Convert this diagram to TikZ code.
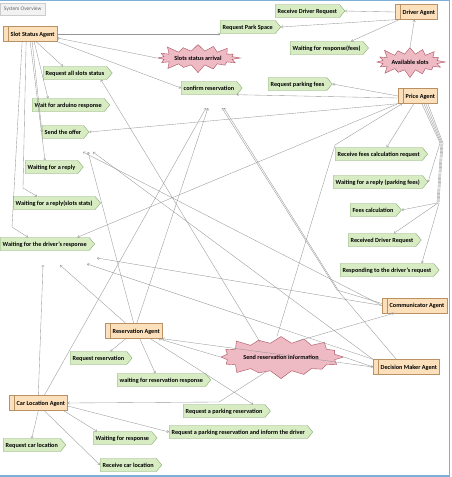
\documentclass[tikz,border=0pt]{standalone}
\usepackage{fontspec}
\setmainfont{Carlito}
\usepackage{tikz}
\usetikzlibrary{shapes.symbols, arrows.meta, positioning}
\definecolor{agentbg}{RGB}{252,224,188}
\definecolor{agentline}{RGB}{185,145,100}
\definecolor{actbg}{RGB}{216,236,196}
\definecolor{actline}{RGB}{135,170,110}
\definecolor{percbg}{RGB}{238,186,196}
\definecolor{percline}{RGB}{170,80,95}
\definecolor{linkgray}{RGB}{150,150,150}
\definecolor{framebl}{RGB}{125,175,215}
\definecolor{tabbg}{RGB}{242,242,242}

\tikzset{
	agent/.style={
		draw=agentline, fill=agentbg, rectangle, anchor=west,
		minimum height=15pt, inner xsep=2.5pt, text depth=0pt,
		font=\fontsize{6.2}{7}\selectfont\bfseries,
		execute at begin node=\hspace*{5pt},
		path picture={\draw[agentline] ([xshift=5pt]path picture bounding box.south west) -- ([xshift=5pt]path picture bounding box.north west);}
	},
	act/.style={
		signal, signal to=east, signal pointer angle=100,
		draw=actline, fill=actbg, anchor=west,
		minimum height=13pt, inner xsep=2.5pt, text depth=0pt,
		font=\fontsize{6.2}{7}\selectfont\bfseries
	},
	percept/.style={
		starburst, starburst points=16, starburst point height=9pt,
		draw=percline, fill=percbg, inner sep=1pt,
		font=\fontsize{6.2}{7}\selectfont\bfseries
	},
	link/.style={draw=linkgray, line width=0.35pt, -{To[length=2.2pt,width=3pt]}}
}

\begin{document}
\begin{tikzpicture}[x=1pt, y=-1pt]
	\useasboundingbox (0,0) rectangle (451,477);
	\draw[framebl, line width=1.2pt] (-2,0.8) -- (449.6,0.8) -- (449.6,476) -- (-2,476);
	\node[draw=black!20, fill=tabbg, anchor=north west, minimum width=45pt, minimum height=12pt, inner sep=1pt,
		font=\fontsize{5.4}{6}\selectfont, text=black!60] (tab) at (0,3) {System Overview};

	% agents
	\node[agent] (ssa) at (3,34) {Slot Status Agent};
	\node[agent] (da) at (395,12) {Driver Agent};
	\node[agent] (pa) at (398,96) {Price Agent};
	\node[agent] (ca) at (382,305.5) {Communicator Agent};
	\node[agent] (dma) at (373,367) {Decision Maker Agent};
	\node[agent] (ra) at (105,331) {Reservation Agent};
	\node[agent] (cla) at (9,403) {Car Location Agent};

	% percepts
	\node[percept, minimum width=86pt, minimum height=32pt] (ssarr) at (198,58) {Slots status arrival};
	\node[percept, minimum width=72pt, minimum height=34pt] (avail) at (410,62) {Available slots};
	\node[percept, minimum width=114pt, minimum height=46pt] (srinfo) at (281,357) {Send reservation information};

	% actions
	\node[act] (rdr) at (275,11) {Receive Driver Request};
	\node[act] (rps) at (220,27) {Request Park Space};
	\node[act] (wrf) at (290,48) {Waiting for response(fees)};
	\node[act] (rass) at (43,73) {Request all slots status};
	\node[act] (conf) at (181,88) {confirm reservation};
	\node[act] (rpf) at (268,84) {Request parking fees};
	\node[act] (war) at (32,105) {Wait for arduino response};
	\node[act] (sto) at (42,132) {Send the offer};
	\node[act] (wfar) at (25,167) {Waiting for a reply};
	\node[act] (wfars) at (13,203) {Waiting for a reply(slots stats)};
	\node[act] (wfdr) at (0,244) {Waiting for the driver’s response};
	\node[act] (rfcr) at (335,154) {Receive fees calculation request};
	\node[act] (wfrpf) at (333,182) {Waiting for a reply (parking fees)};
	\node[act] (fc) at (350,210) {Fees calculation};
	\node[act] (rdrq) at (348,240) {Received Driver Request};
	\node[act] (rtdr) at (340,270) {Responding to the driver’s request};
	\node[act] (rres) at (70,358) {Request reservation};
	\node[act] (wrr) at (117,380) {waiting for reservation response};
	\node[act] (rpr) at (183,411) {Request a parking reservation};
	\node[act] (rprid) at (169,432) {Request a parking reservation and inform the driver};
	\node[act] (rcl) at (3,445) {Request car location};
	\node[act] (wfr) at (93,438) {Waiting for response};
	\node[act] (rcloc) at (100,465) {Receive car location};

	% free message ends and bends
	\coordinate (mA) at (88,152);
	\coordinate (mB) at (206,108);
	\coordinate (mBr) at (222,108);
	\coordinate (mC1) at (43,265);
	\coordinate (mC2) at (60,265);
	\coordinate (mC3) at (87,264);
	\coordinate (mC4) at (97,258);
	\coordinate (kR) at (23,188);
	\coordinate (kD) at (12,227);
	\coordinate (kP1) at (440,143);
	\coordinate (kP2) at (437,203);
	\coordinate (kS) at (335,145);
	\coordinate (kB1) at (337,290);
	\coordinate (kB2) at (340,293);
	\coordinate (kL) at (219,402);

	% slot status agent
	\draw[link] (ssa.east) -- (ssa.east -| rps.west);
	\draw[link] (ssarr.west) -- ([yshift=-4pt]ssa.east);
	\draw[link] (ssa.south east) -- (conf.west);
	\draw[link] ([xshift=6pt]ssa.south) -- ([xshift=20pt]rass.north west);
	\draw[link] ([xshift=4pt]ssa.south) -- ([xshift=16pt]war.north west);
	\draw[link] ([xshift=2pt]ssa.south) -- (sto.west);
	\draw[link] (ssa.south) -- ([xshift=20pt]wfar.north west);
	\draw[link] ([xshift=-4pt]ssa.south) -- (kR) -- ([xshift=24pt]wfars.north west);
	\draw[link] ([xshift=-8pt]ssa.south) -- (kD) -- ([xshift=28pt]wfdr.north west);
	\draw[link] ([xshift=-6pt]srinfo.north west) -- ([xshift=-6pt]rass.south east);

	% driver agent
	\draw[link] (da.west) -- (rdr.east);
	\draw[link] (da.south west) -- (rps.east);
	\draw[link] ([xshift=4pt]da.south west) -- ([xshift=-12pt]wrf.north east);
	\draw[link] (avail.north) -- ([xshift=-2pt]da.south);

	% price agent
	\draw[link] (pa.west) -- (rpf.east);
	\draw[link] ([yshift=-2pt]pa.west) -- (conf.south east);
	\draw[link] (pa.south west) -- (sto.east);
	\draw[link] (pa.south west) -- ([xshift=-12pt]wfdr.north east);
	\draw[link] ([xshift=-4pt]pa.south) -- ([xshift=8pt]rfcr.north);
	\draw[link] ([xshift=4pt]pa.south) -- (kP1) -- (wfrpf.east);
	\draw[link] ([xshift=6pt]pa.south) -- ([xshift=1pt]kP1) -- (kP2) -- (fc.east);
	\draw[link] ([xshift=8pt]pa.south) -- ([xshift=2pt]kP1) -- ([xshift=1pt]kP2) -- ([xshift=-22pt]rdrq.north east);
	\draw[link] ([xshift=10pt]pa.south) -- ([xshift=3pt]kP1) -- ([xshift=2pt]kP2) -- ([xshift=-12pt]rtdr.north east);
	\draw[link] ([xshift=-4pt]srinfo.north) -- (kS) -- ([xshift=4pt]pa.south west);

	% reservation agent
	\draw[link] ([xshift=-8pt]ra.south) -- ([xshift=12pt]rres.north);
	\draw[link] ([xshift=6pt]ra.south) -- ([xshift=-6pt]wrr.north);
	\draw[link] (ra.north) -- (mA);
	\draw[link] ([xshift=-8pt]ra.north) -- (mC2);
	\draw[link] ([xshift=3pt]ra.north) -- ([xshift=2pt]mB);
	\draw[link] ([xshift=-12pt]ra.south east) -- ([xshift=-12pt]rpr.north east);
	\draw[link] (srinfo.west) -- ([xshift=-4pt]ra.south east);

	% decision maker and communicator agents
	\draw[link] (dma.west) -- (ra.south east);
	\draw[link] (dma.north west) -- ([xshift=5pt]mA);
	\draw[link] (dma.north west) -- (mC3);
	\draw[link] ([xshift=-10pt]dma.north) -- (kB2) -- ([xshift=2pt]mBr);
	\draw[link] (srinfo.east) -- (dma.west);
	\draw[link] (ca.west) -- ([xshift=-5pt]mA);
	\draw[link] (ca.west) -- (mC4);
	\draw[link] ([yshift=2pt]ca.west) -- (kB1) -- (mBr);
	\draw[link] (srinfo.north east) -- ([xshift=12pt]ca.south west);

	% car location agent
	\draw[link] (cla.south) -- (rcl.north);
	\draw[link] ([xshift=6pt]cla.south) -- (rcloc.west);
	\draw[link] ([xshift=-4pt]cla.south east) -- ([xshift=4pt]wfr.north west);
	\draw[link] ([yshift=-3pt]cla.east) -- (rprid.west);
	\draw[link] (cla.north) -- (mC1);
	\draw[link] ([xshift=6pt]cla.north) -- (mB);
	\draw[link] (srinfo.south west) -- (kL) -- (cla.east);
\end{tikzpicture}
\end{document}
